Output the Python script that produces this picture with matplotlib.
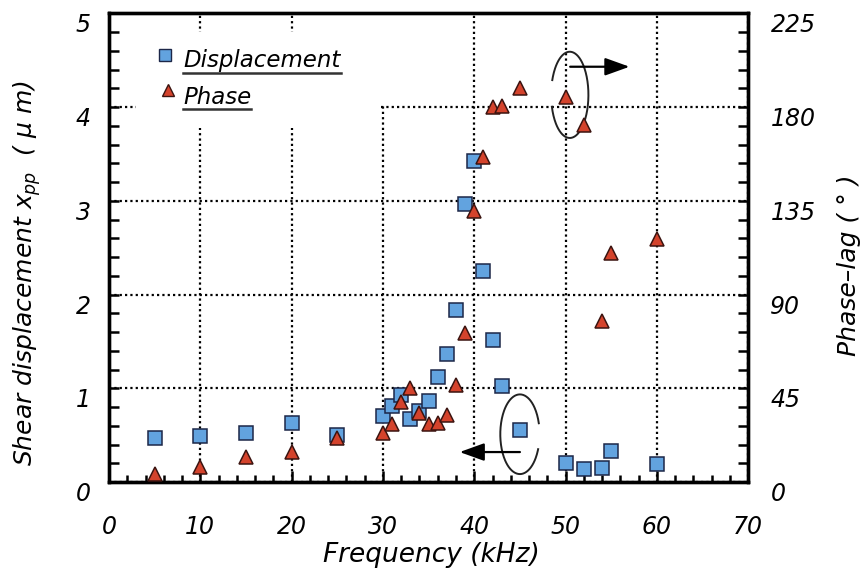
import numpy as np
import matplotlib.pyplot as plt
from matplotlib.ticker import MultipleLocator
from matplotlib.patches import Rectangle

plt.rcParams['font.family'] = ['DejaVu Sans']
plt.rcParams['font.style'] = 'italic'

# measured points (kHz, um, deg)
freq = [5, 10, 15, 20, 25, 30, 31, 32, 33, 34, 35, 36, 37, 38, 39, 40, 41, 42, 43, 45, 50, 52, 54, 55, 60]
disp = [0.47, 0.49, 0.52, 0.63, 0.50, 0.70, 0.81, 0.93, 0.67, 0.76, 0.86, 1.12, 1.37, 1.84, 2.97,
        3.42, 2.25, 1.51, 1.02, 0.55, 0.20, 0.14, 0.15, 0.33, 0.19]
phase = [4, 7, 12, 14.5, 21, 23.5, 28, 38.5, 45, 33, 28, 28.5, 32, 46.5, 71.5,
         130, 156, 180, 180.5, 189, 185, 171.5, 77.5, 110, 116.5]

x_ticks = [0, 10, 20, 30, 40, 50, 60, 70]
y_ticks = [0, 1, 2, 3, 4, 5]
phase_ticks = [0, 45, 90, 135, 180, 225]

sq_face, sq_edge = '#62a3df', '#1c2748'
tri_face, tri_edge = '#d4432c', '#3b1410'

fig = plt.figure(figsize=(8.65, 5.78), dpi=100)
ax = fig.add_axes([0.126, 0.166, 0.739, 0.811])
ax2 = ax.twinx()

ax.set_xlim(0, 70)
ax.set_ylim(0, 5)
ax2.set_ylim(0, 225)

ax.set_xticks(x_ticks)
ax.set_yticks(y_ticks)
ax2.set_yticks(phase_ticks)
ax.xaxis.set_minor_locator(MultipleLocator(2))
ax.yaxis.set_minor_locator(MultipleLocator(0.2))
ax2.yaxis.set_minor_locator(MultipleLocator(9))

ax.grid(True, which='major', color='black', linestyle=(0, (1, 1.4)), linewidth=1.6)

for a in (ax, ax2):
    for s in a.spines.values():
        s.set_linewidth(2.4)

ax.tick_params(axis='x', which='major', direction='in', length=8, width=1.8, pad=24, labelsize=17)
ax.tick_params(axis='x', which='minor', direction='in', length=5, width=1.8)
ax.tick_params(axis='y', which='major', direction='in', length=7, width=1.8, pad=13, labelsize=17)
ax.tick_params(axis='y', which='minor', direction='in', length=7, width=1.8)
ax.tick_params(right=False, top=False, which='both')
ax2.tick_params(axis='y', which='major', direction='in', length=7, width=1.8, pad=16, labelsize=17)
ax2.tick_params(axis='y', which='minor', direction='in', length=7, width=1.8)

for lbl in ax.get_yticklabels() + ax2.get_yticklabels():
    lbl.set_va('top')

# white blocks behind the legend hide the grid there
ax.add_patch(Rectangle((3.0, 3.78), 26.7, 1.02, facecolor='white', edgecolor='none', zorder=2))
ax.add_patch(Rectangle((29.5, 4.03), 1.0, 0.97, facecolor='white', edgecolor='none', zorder=2))

ax.plot(freq, disp, linestyle='none', marker='s', ms=9.5, mfc=sq_face, mec=sq_edge, mew=1.1, zorder=3)
ax2.plot(freq, phase, linestyle='none', marker='^', ms=10.5, mfc=tri_face, mec=tri_edge, mew=1.1, zorder=3)

# legend drawn by hand with underlined labels
ax.plot([0.0876], [0.910], transform=ax.transAxes, marker='s', ms=8, mfc=sq_face, mec=sq_edge,
        mew=1.0, linestyle='none', clip_on=False, zorder=3)
ax.plot([0.0923], [0.836], transform=ax.transAxes, marker='^', ms=9, mfc=tri_face, mec=tri_edge,
        mew=1.0, linestyle='none', clip_on=False, zorder=3)
t1 = ax.text(0.116, 0.885, 'Displacement', transform=ax.transAxes, fontsize=16.5, va='baseline', zorder=3)
t2 = ax.text(0.116, 0.806, 'Phase', transform=ax.transAxes, fontsize=16.5, va='baseline', zorder=3)
fig.canvas.draw()
inv = ax.transAxes.inverted()
for t, uy in ((t1, 0.872), (t2, 0.795)):
    bb = t.get_window_extent()
    x0 = inv.transform((bb.x0, bb.y0))[0]
    x1 = inv.transform((bb.x1, bb.y0))[0]
    ax.plot([x0, x1], [uy, uy], transform=ax.transAxes, color='#333333', lw=1.8, zorder=3)

# ellipse markers telling which axis each series belongs to
def open_ellipse(cx, cy, rx, ry, t0, t1):
    t = np.radians(np.linspace(t0, t1, 200))
    ax.plot(cx + rx * np.cos(t), cy + ry * np.sin(t), color='#222222', lw=1.4, zorder=4)

open_ellipse(50.46, 4.13, 2.04, 0.46, 196, 520)
open_ellipse(45.0, 0.51, 2.15, 0.425, 16, 338)

arrow = dict(arrowstyle='-|>,head_length=0.75,head_width=0.27', color='black', lw=1.6,
             mutation_scale=20, shrinkA=0, shrinkB=0)
ax.annotate('', xy=(57.0, 4.43), xytext=(50.5, 4.43), arrowprops=arrow, zorder=4)
ax.annotate('', xy=(38.4, 0.32), xytext=(45.0, 0.32), arrowprops=arrow, zorder=4)

ax.set_xlabel('Frequency (kHz)', fontsize=19, va='center')
ax.xaxis.set_label_coords(0.505, -0.156)
ax.set_ylabel(r'Shear displacement $x_{pp}$  ( $\mu$ m)', fontsize=18, va='center')
ax.yaxis.set_label_coords(-0.128, 0.446)
ax2.set_ylabel('Phase\u2013lag ( \u00b0 )', fontsize=18, va='center')
ax2.yaxis.set_label_coords(1.158, 0.463)

fig.savefig('out.png', dpi=100)
